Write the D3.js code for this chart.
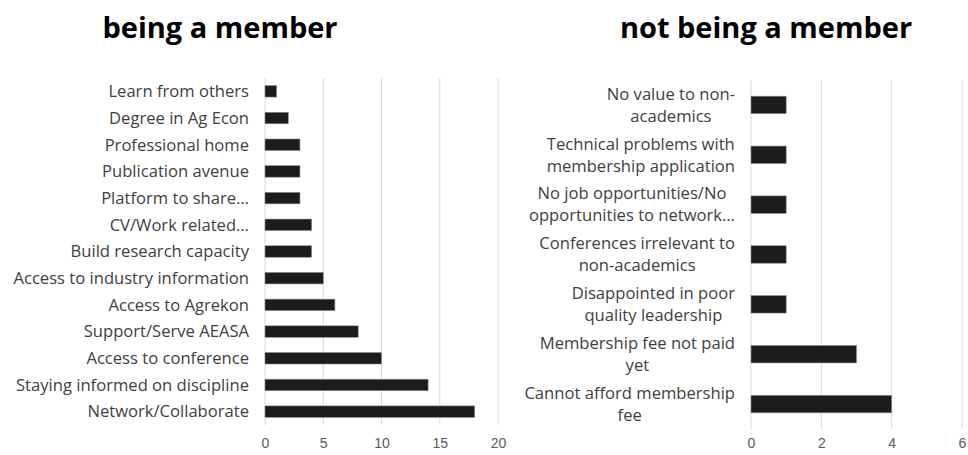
<!DOCTYPE html>
<html>
<head>
<meta charset="utf-8">
<script src="https://cdn.jsdelivr.net/npm/d3@7"></script>
<style>
  body { margin: 0; background: #fff; }
  svg { display: block; font-family: "Open Sans", "Liberation Sans", sans-serif; }
  .grid line { stroke: #d9d9d9; stroke-width: 1; }
  .tick text { fill: #595959; font-size: 14px; }
  .lbl { fill: #404040; font-size: 16.6px; }
  .title { fill: #000; font-size: 29px; font-weight: bold; }
</style>
</head>
<body>
<div id="chart"></div>
<script>
// reasons for being a member (bottom to top in the picture)
var memberReasons = ["Network/Collaborate", "Staying informed on discipline", "Access to conference",
  "Support/Serve AEASA", "Access to Agrekon", "Access to industry information", "Build research capacity",
  "CV/Work related\u2026", "Platform to share\u2026", "Publication avenue", "Professional home",
  "Degree in Ag Econ", "Learn from others"];
var memberCounts = [18, 14, 10, 8, 6, 5, 4, 4, 3, 3, 3, 2, 1];
var memberTicks = [0, 5, 10, 15, 20];

// reasons for not being a member (bottom to top), each label as wrapped lines
var nonMemberReasons = [["Cannot afford membership", "fee"], ["Membership fee not paid", "yet"],
  ["Disappointed in poor", "quality leadership"], ["Conferences irrelevant to", "non-academics"],
  ["No job opportunities/No", "opportunities to network\u2026"],
  ["Technical problems with", "membership application"], ["No value to non-", "academics"]];
var nonMemberCounts = [4, 3, 1, 1, 1, 1, 1];
var nonMemberTicks = [0, 2, 4, 6];

var W = 968, H = 455;
var svg = d3.select("#chart").append("svg").attr("width", W).attr("height", H);

function drawPanel(cfg) {
  var g = svg.append("g");
  var idx = d3.range(cfg.counts.length);
  var x = d3.scaleLinear().domain([0, cfg.max]).range([cfg.x0, cfg.x1]);
  // first category at the bottom
  var y = d3.scaleBand().domain(idx).range([cfg.y1, cfg.y0]).paddingInner(cfg.pad).paddingOuter(cfg.pad / 2);

  g.append("g").attr("class", "grid")
    .selectAll("line").data(cfg.ticks).enter().append("line")
      .attr("x1", function(d) { return x(d); }).attr("x2", function(d) { return x(d); })
      .attr("y1", cfg.y0).attr("y2", cfg.y1);

  g.selectAll("rect.bar").data(cfg.counts).enter().append("rect")
    .attr("class", "bar")
    .attr("x", x(0))
    .attr("y", function(d, i) { return y(i); })
    .attr("width", function(d) { return x(d) - x(0); })
    .attr("height", y.bandwidth())
    .attr("fill", "#1c1c1c")
    .attr("stroke", "#8a8a8a").attr("stroke-width", 0.6);

  var ax = d3.axisBottom(x).tickValues(cfg.ticks).tickFormat(d3.format("d")).tickSize(0).tickPadding(0);
  var axg = g.append("g").attr("transform", "translate(0," + cfg.tickY + ")").call(ax);
  axg.select(".domain").remove();

  var labs = g.selectAll("g.lab").data(cfg.labels).enter().append("g").attr("class", "lab");
  labs.each(function(lines, i) {
    var gg = d3.select(this);
    if (!Array.isArray(lines)) lines = [lines];
    var cy = y(i) + y.bandwidth() / 2;
    var n = lines.length;
    var ts = lines.map(function(s, k) {
      return gg.append("text").attr("class", "lbl")
        .attr("y", cy + (k - (n - 1) / 2) * cfg.lineH)
        .attr("dy", "0.35em")
        .text(s);
    });
    var widest = d3.max(ts, function(t) { return t.node().getComputedTextLength(); });
    ts.forEach(function(t) {
      t.attr("x", cfg.labelRight - widest / 2).attr("text-anchor", "middle");
    });
  });

  svg.append("text").attr("class", "title")
    .attr("x", cfg.titleX).attr("y", 38).attr("text-anchor", "middle")
    .text(cfg.title);
}

drawPanel({
  labels: memberReasons, counts: memberCounts, ticks: memberTicks, max: 20,
  x0: 265, x1: 498, y0: 78, y1: 425, pad: 0.57, lineH: 20,
  labelRight: 249, tickY: 438, title: "being a member", titleX: 220
});

drawPanel({
  labels: nonMemberReasons, counts: nonMemberCounts, ticks: nonMemberTicks, max: 6,
  x0: 751, x1: 962, y0: 80, y1: 429, pad: 0.65, lineH: 22,
  labelRight: 735, tickY: 438, title: "not being a member", titleX: 766
});
</script>
</body>
</html>
